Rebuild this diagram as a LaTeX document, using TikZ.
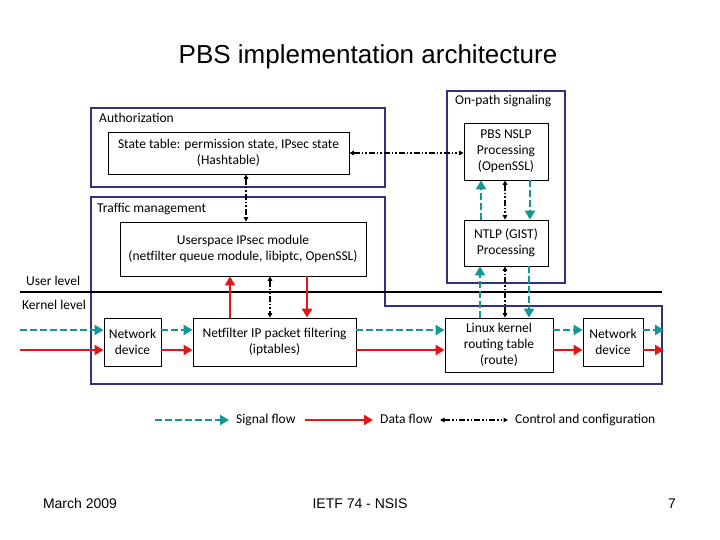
\documentclass[tikz,border=0pt]{standalone}
\usepackage{fontspec}
\setmainfont{Carlito}
\newfontfamily\arialf{Liberation Sans}
\usetikzlibrary{arrows.meta}
\definecolor{navy}{RGB}{50,50,125}
\definecolor{teal2}{RGB}{20,150,150}
\definecolor{red2}{RGB}{230,20,20}
\begin{document}
\begin{tikzpicture}[x=1pt,y=-1pt,
  box/.style={draw,line width=0.8pt,align=center,inner sep=2pt,font=\fontsize{13.5}{16}\selectfont},
  grp/.style={draw=navy,line width=2.4pt},
  lbl/.style={font=\fontsize{13.5}{16}\selectfont,anchor=west,inner sep=0pt,text height=9pt,text depth=3pt},
  sig/.style={teal2,line width=2.6pt,dash pattern=on 7pt off 3pt,-{Triangle[length=9pt,width=10pt]}},
  dat/.style={red2,line width=2.4pt,-{Triangle[length=9pt,width=10pt]}},
  ctl/.style={black,line width=1.5pt,dash pattern=on 6pt off 2pt on 1.5pt off 2pt on 1.5pt off 2pt,{Triangle[length=4.5pt,width=4.5pt]}-{Triangle[length=4.5pt,width=4.5pt]}},
  ft/.style={font=\arialf\fontsize{14}{16}\selectfont,anchor=base}]
\useasboundingbox (0,0) rectangle (720,540);
\node[font=\arialf\fontsize{26}{30}\selectfont] (title) at (368,57) {PBS implementation architecture};
% groups
\draw[grp] (447,91) rectangle (565,283);
\draw[grp] (91,108) rectangle (385,187);
\draw[grp] (91,197) -- (385,197) -- (385,306) -- (662,306) -- (662,384) -- (91,384) -- cycle;
\node[lbl] (onp) at (455,102) {On-path signaling};
\node[lbl] (auth) at (99,120) {Authorization};
\node[lbl] (tm) at (97,210) {Traffic management};
% level line
\draw[line width=2.8pt] (20,292) -- (662,292);
\node[lbl] (ul) at (26,282) {User level};
\node[lbl] (kl) at (22,306) {Kernel level};
% boxes
\node[box,minimum width=241pt,minimum height=42pt] (st) at (228.5,153) {State table: permission state, IPsec state\\(Hashtable)};
\node[box,minimum width=84pt,minimum height=57pt] (pbs) at (506,151.5) {PBS NSLP\\Processing\\(OpenSSL)};
\node[box,minimum width=84pt,minimum height=46pt] (ntlp) at (506,243) {NTLP (GIST)\\Processing};
\node[box,minimum width=246pt,minimum height=54pt] (us) at (243,249) {Userspace IPsec module\\(netfilter queue module, libiptc, OpenSSL)};
\node[box,minimum width=57pt,minimum height=48pt] (nd1) at (132.5,342) {Network\\device};
\node[box,minimum width=163pt,minimum height=48pt] (nf) at (274.5,342) {Netfilter IP packet filtering\\(iptables)};
\node[box,minimum width=108pt,minimum height=54pt] (lk) at (499,345) {Linux kernel\\routing table\\(route)};
\node[box,minimum width=60pt,minimum height=48pt] (nd2) at (613,342) {Network\\device};
% coordinates for free ends
\coordinate (inS) at (20,330); \coordinate (inD) at (20,350);
\coordinate (outS) at (664,330); \coordinate (outD) at (664,350);
% horizontal flows
\draw[sig] (inS) -- (nd1.west|-inS);
\draw[dat] (inD) -- (nd1.west|-inD);
\draw[sig] (nd1.east|-inS) -- (nf.west|-inS);
\draw[dat] (nd1.east|-inD) -- (nf.west|-inD);
\draw[sig] (nf.east|-inS) -- (lk.west|-inS);
\draw[dat] (nf.east|-inD) -- (lk.west|-inD);
\draw[sig] (lk.east|-inS) -- (nd2.west|-inS);
\draw[dat] (lk.east|-inD) -- (nd2.west|-inD);
\draw[sig] (nd2.east|-inS) -- (outS);
\draw[dat] (nd2.east|-inD) -- (outD);
% vertical flows
\draw[dat] (nf.north-|230,0) -- (us.south-|230,0);
\draw[dat] (us.south-|307,0) -- (nf.north-|307,0);
\draw[ctl] (us.south-|270,0) -- (nf.north-|270,0);
\draw[ctl] (st.south-|246,0) -- (us.north-|246,0);
\draw[ctl] (st.east) -- (pbs.west|-st.east);
\draw[sig] (lk.north-|480,0) -- (ntlp.south-|480,0);
\draw[sig] (ntlp.south-|529,0) -- (lk.north-|529,0);
\draw[ctl] (lk.north-|505,0) -- (ntlp.south-|505,0);
\draw[sig] (ntlp.north-|481,0) -- (pbs.south-|481,0);
\draw[sig] (pbs.south-|530,0) -- (ntlp.north-|530,0);
\draw[ctl] (pbs.south-|505,0) -- (ntlp.north-|505,0);
% legend
\coordinate (l1a) at (155,420); \coordinate (l1b) at (229,420);
\coordinate (l2a) at (305,420); \coordinate (l2b) at (373,420);
\coordinate (l3a) at (440,420); \coordinate (l3b) at (508,420);
\draw[sig] (l1a) -- (l1b);
\draw[dat] (l2a) -- (l2b);
\draw[ctl] (l3a) -- (l3b);
\node[lbl] (t1) at (236,420) {Signal flow};
\node[lbl] (t2) at (380,420) {Data flow};
\node[lbl] (t3) at (515,420) {Control and configuration};
% footer
\node[ft] (f1) at (80,508) {March 2009};
\node[ft] (f2) at (360,508) {IETF 74 - NSIS};
\node[ft] (f3) at (672,508) {7};
\end{tikzpicture}
\end{document}
